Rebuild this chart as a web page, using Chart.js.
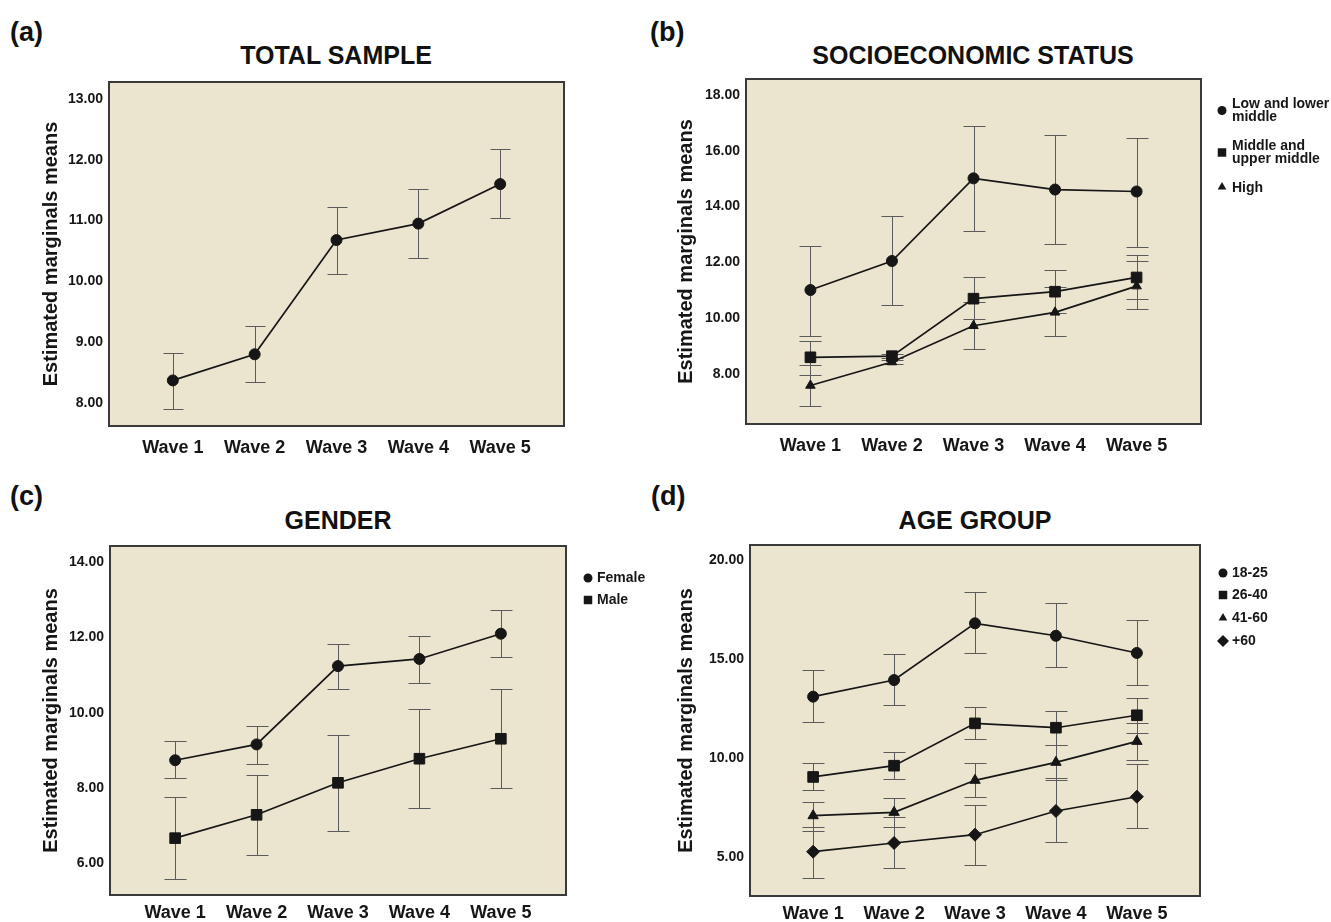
<!DOCTYPE html>
<html>
<head>
<meta charset="utf-8">
<script src="https://cdn.jsdelivr.net/npm/chart.js@4.4.1/dist/chart.umd.min.js"></script>
<style>
  body { margin: 0; background: #fff; width: 1331px; height: 922px; position: relative; overflow: hidden;
         font-family: "Liberation Sans", Arial, sans-serif; }
  .lbl { position: absolute; font-weight: bold; color: #111; white-space: nowrap; }
  .letter { font-size: 27px; line-height: 27px; }
  .ttl { font-size: 25px; line-height: 25px; transform: translateX(-50%); }
  canvas { position: absolute; }
</style>
</head>
<body>
<div class="lbl letter" style="left:10px;top:19px;">(a)</div>
<div class="lbl letter" style="left:650px;top:19px;">(b)</div>
<div class="lbl letter" style="left:10px;top:483px;">(c)</div>
<div class="lbl letter" style="left:651px;top:483px;">(d)</div>
<div class="lbl ttl" style="left:336px;top:43px;">TOTAL SAMPLE</div>
<div class="lbl ttl" style="left:973px;top:43px;">SOCIOECONOMIC STATUS</div>
<div class="lbl ttl" style="left:338px;top:508px;">GENDER</div>
<div class="lbl ttl" style="left:975px;top:508px;">AGE GROUP</div>

<canvas id="chartA" width="535" height="400" style="left:39px;top:66px;"></canvas>
<canvas id="chartB" width="657" height="401" style="left:674px;top:63px;"></canvas>
<canvas id="chartC" width="627" height="405" style="left:39px;top:530px;"></canvas>
<canvas id="chartD" width="657" height="407" style="left:674px;top:529px;"></canvas>

<script>
// الفئات
const waves = ['Wave 1', 'Wave 2', 'Wave 3', 'Wave 4', 'Wave 5'];

// (a) العينة الكاملة
const totalMean = [8.37, 8.80, 10.68, 10.95, 11.60];
const totalLo   = [7.90, 8.34, 10.12, 10.39, 11.04];
const totalHi   = [8.82, 9.26, 11.22, 11.52, 12.17];

// (b) الحالة الاجتماعية والاقتصادية
const sesLabels = [['Low and lower', 'middle'], ['Middle and', 'upper middle'], ['High']];
const sesLowMean = [11.01, 12.05, 15.01, 14.61, 14.54];
const sesLowLo   = [9.37, 10.49, 13.14, 12.66, 12.56];
const sesLowHi   = [12.58, 13.65, 16.88, 16.57, 16.47];
const sesMidMean = [8.60, 8.64, 10.70, 10.95, 11.46];
const sesMidLo   = [7.95, 8.58, 9.96, 10.19, 10.68];
const sesMidHi   = [9.19, 8.70, 11.46, 11.73, 12.27];
const sesHighMean = [7.59, 8.43, 9.73, 10.21, 11.15];
const sesHighLo   = [6.86, 8.37, 8.90, 9.36, 10.32];
const sesHighHi   = [8.31, 8.49, 10.57, 11.11, 12.06];

// (c) الجنس
const genderLabels = [['Female'], ['Male']];
const femMean = [8.74, 9.16, 11.24, 11.43, 12.10];
const femLo   = [8.26, 8.65, 10.63, 10.80, 11.49];
const femHi   = [9.26, 9.64, 11.84, 12.04, 12.72];
const maleMean = [6.67, 7.29, 8.14, 8.78, 9.31];
const maleLo   = [5.59, 6.22, 6.87, 7.47, 8.00];
const maleHi   = [7.76, 8.36, 9.40, 10.09, 10.62];

// (d) الفئة العمرية
const ageLabels = [['18-25'], ['26-40'], ['41-60'], ['+60']];
const age1825Mean = [13.09, 13.93, 16.80, 16.17, 15.30];
const age1825Lo   = [11.83, 12.67, 15.28, 14.57, 13.66];
const age1825Hi   = [14.42, 15.26, 18.38, 17.83, 16.98];
const age2640Mean = [9.03, 9.60, 11.74, 11.52, 12.15];
const age2640Lo   = [8.35, 8.91, 10.95, 10.66, 11.27];
const age2640Hi   = [9.74, 10.31, 12.58, 12.35, 13.02];
const age4160Mean = [7.07, 7.24, 8.86, 9.77, 10.83];
const age4160Lo   = [6.31, 6.52, 8.00, 8.88, 9.90];
const age4160Hi   = [7.78, 7.95, 9.75, 10.66, 11.78];
const age60Mean = [5.25, 5.69, 6.11, 7.31, 8.03];
const age60Lo   = [3.90, 4.41, 4.58, 5.76, 6.47];
const age60Hi   = [6.52, 6.99, 7.61, 8.96, 9.70];

// أرقام المحاور
const ticksA = [8, 9, 10, 11, 12, 13];
const ticksB = [8, 10, 12, 14, 16, 18];
const ticksC = [6, 8, 10, 12, 14];
const ticksD = [5, 10, 15, 20];

Chart.defaults.font.family = '"Liberation Sans", Arial, sans-serif';
Chart.defaults.color = '#111';
Chart.defaults.animation = false;

const INK = '#161616';

// خلفية وإطار منطقة الرسم
const framePlugin = {
    id: 'frame',
    beforeDraw(chart) {
        const { ctx, chartArea: a } = chart;
        ctx.save();
        ctx.fillStyle = '#ebe4cf';
        ctx.fillRect(a.left, a.top, a.right - a.left, a.bottom - a.top);
        ctx.restore();
    },
    afterDraw(chart) {
        const { ctx, chartArea: a } = chart;
        ctx.save();
        ctx.strokeStyle = '#3a3a3a';
        ctx.lineWidth = 2;
        ctx.strokeRect(a.left, a.top, a.right - a.left, a.bottom - a.top);
        ctx.restore();
    }
};

// أشرطة الخطأ
const errorBarPlugin = {
    id: 'errorBars',
    beforeDatasetsDraw(chart, args, opts) {
        const { ctx, scales: { x, y } } = chart;
        const half = opts.cap || 10;
        ctx.save();
        ctx.strokeStyle = '#5b5b5b';
        ctx.lineWidth = 1;
        chart.data.datasets.forEach(ds => {
            ds.data.forEach((p, i) => {
                const px = Math.round(x.getPixelForValue(p.x)) + 0.5;
                const top = Math.round(y.getPixelForValue(ds.errHi[i])) + 0.5;
                const bot = Math.round(y.getPixelForValue(ds.errLo[i])) + 0.5;
                ctx.beginPath();
                ctx.moveTo(px, top); ctx.lineTo(px, bot);
                ctx.moveTo(px - half, top); ctx.lineTo(px + half, top);
                ctx.moveTo(px - half, bot); ctx.lineTo(px + half, bot);
                ctx.stroke();
            });
        });
        ctx.restore();
    }
};

// وسيلة الإيضاح الجانبية
const sideLegendPlugin = {
    id: 'sideLegend',
    afterDraw(chart, args, opts) {
        if (!opts.items) return;
        const { ctx, chartArea: a } = chart;
        ctx.save();
        ctx.font = 'bold 14px "Liberation Sans", Arial, sans-serif';
        ctx.textBaseline = 'middle';
        ctx.fillStyle = INK;
        ctx.strokeStyle = INK;
        chart.data.datasets.forEach((ds, k) => {
            const item = opts.items[k];
            const y0 = a.top + item.y;
            const lines = ds.legendLines;
            const my = y0 + (lines.length - 1) * 6.5 + (item.dy || 0);
            Chart.helpers.drawPoint(ctx, {
                pointStyle: ds.pointStyle, radius: item.r, rotation: 0, borderWidth: 0
            }, a.right + opts.markerX, my);
            ctx.fillStyle = INK;
            lines.forEach((t, j) => ctx.fillText(t, a.right + opts.textX, y0 + j * 13));
        });
        ctx.restore();
    }
};

function series(mean, lo, hi, style, radius, lines) {
    return {
        data: mean.map((v, i) => ({ x: i + 1, y: v })),
        errLo: lo, errHi: hi,
        legendLines: lines || [],
        borderColor: INK, backgroundColor: INK,
        borderWidth: 1.7,
        pointStyle: style, pointRadius: radius,
        pointBackgroundColor: INK, pointBorderColor: INK, pointBorderWidth: 1,
        tension: 0
    };
}

function makeChart(id, cfg) {
    return new Chart(document.getElementById(id), {
        type: 'line',
        data: { datasets: cfg.datasets },
        options: {
            responsive: false,
            layout: { padding: { top: 16, right: cfg.padRight, bottom: 0, left: 0 } },
            plugins: {
                legend: { display: false },
                tooltip: { enabled: false },
                errorBars: { cap: cfg.cap },
                sideLegend: cfg.legend || {}
            },
            scales: {
                x: {
                    type: 'linear', min: 1 - cfg.xPad, max: 5 + cfg.xPad,
                    grid: { display: false, drawTicks: false }, border: { display: false },
                    afterBuildTicks: s => { s.ticks = waves.map((w, i) => ({ value: i + 1 })); },
                    afterFit: s => { s.height = 40; },
                    ticks: {
                        padding: cfg.xTickPad, color: INK, autoSkip: false, maxRotation: 0,
                        font: { size: 18, weight: 'bold' },
                        callback: v => waves[v - 1]
                    }
                },
                y: {
                    min: cfg.yMin, max: cfg.yMax,
                    grid: { display: false, drawTicks: false }, border: { display: false },
                    afterBuildTicks: s => { s.ticks = cfg.yTicks.map(v => ({ value: v })); },
                    afterFit: s => { s.width = cfg.axisWidth; },
                    ticks: {
                        padding: 6, color: INK,
                        font: { size: 14, weight: 'bold' },
                        callback: v => Number(v).toFixed(2)
                    },
                    title: {
                        display: true, text: 'Estimated marginals means', color: INK,
                        padding: 0, font: { size: 20, weight: 'bold' }
                    }
                }
            }
        },
        plugins: [framePlugin, errorBarPlugin, sideLegendPlugin]
    });
}

makeChart('chartA', {
    datasets: [series(totalMean, totalLo, totalHi, 'circle', 5.5)],
    yMin: 7.62, yMax: 13.28, yTicks: ticksA,
    xPad: 0.78, axisWidth: 70, padRight: 10, xTickPad: 11, cap: 10
});

makeChart('chartB', {
    datasets: [
        series(sesLowMean, sesLowLo, sesLowHi, 'circle', 5.5, sesLabels[0]),
        series(sesMidMean, sesMidLo, sesMidHi, 'rect', 7.5, sesLabels[1]),
        series(sesHighMean, sesHighLo, sesHighHi, 'triangle', 5.5, sesLabels[2])
    ],
    yMin: 6.21, yMax: 18.57, yTicks: ticksB,
    xPad: 0.79, axisWidth: 72, padRight: 130, xTickPad: 11, cap: 11,
    legend: { markerX: 21, textX: 31, items: [{ y: 25, r: 4.5 }, { y: 67, r: 6 }, { y: 109, r: 5, dy: -1 }] }
});

makeChart('chartC', {
    datasets: [
        series(femMean, femLo, femHi, 'circle', 5.5, genderLabels[0]),
        series(maleMean, maleLo, maleHi, 'rect', 7.5, genderLabels[1])
    ],
    yMin: 5.16, yMax: 14.43, yTicks: ticksC,
    xPad: 0.8, axisWidth: 71, padRight: 100, xTickPad: 7, cap: 11,
    legend: { markerX: 22, textX: 31, items: [{ y: 32, r: 4.5 }, { y: 54, r: 6 }] }
});

makeChart('chartD', {
    datasets: [
        series(age1825Mean, age1825Lo, age1825Hi, 'circle', 5.5, ageLabels[0]),
        series(age2640Mean, age2640Lo, age2640Hi, 'rect', 7.5, ageLabels[1]),
        series(age4160Mean, age4160Lo, age4160Hi, 'triangle', 6, ageLabels[2]),
        series(age60Mean, age60Lo, age60Hi, 'rectRot', 6.5, ageLabels[3])
    ],
    yMin: 3.01, yMax: 20.76, yTicks: ticksD,
    xPad: 0.78, axisWidth: 76, padRight: 131, xTickPad: 7, cap: 11,
    legend: { markerX: 23, textX: 32, items: [{ y: 28, r: 4.5 }, { y: 50, r: 6 }, { y: 73, r: 5 }, { y: 96, r: 6 }] }
});
</script>
</body>
</html>
